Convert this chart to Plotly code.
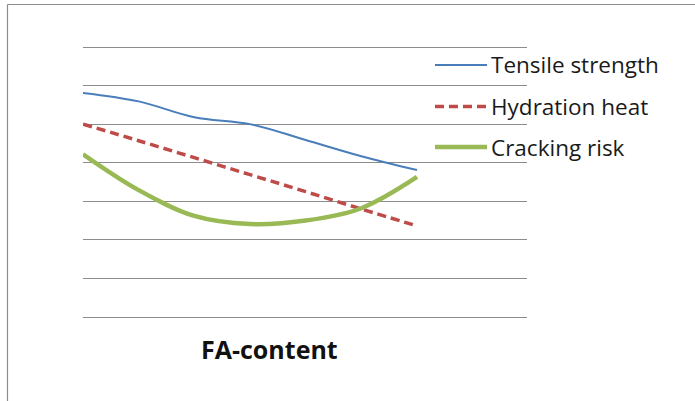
import plotly.graph_objects as go

# FA-content steps (unlabelled categories) and the three qualitative curves
fa_steps = [0, 1, 2, 3, 4, 5, 6]
tensile_strength = [5.81, 5.59, 5.18, 5.00, 4.59, 4.17, 3.81]
hydration_heat = [5.00, 4.57, 4.13, 3.69, 3.25, 2.80, 2.36]
cracking_risk = [4.22, 3.29, 2.62, 2.41, 2.50, 2.82, 3.63]

series_names = ["Tensile strength", "Hydration heat", "Cracking risk"]
series_colors = ["#4a7ebb", "#be4b48", "#98b954"]
series_widths = [2, 3.5, 4.5]
series_dash = ["solid", "9px,5px", "solid"]

W, H = 695, 401
Y_MIN, Y_MAX = 0, 7
PL, PR = 83, 527          # horizontal extent of the gridlines (px)
Y_TOP, Y_BOT = 47, 317    # pixel rows of the top and bottom gridlines
PAD = 4                   # extra px so the edge gridlines are drawn
unit = (Y_BOT - Y_TOP) / (Y_MAX - Y_MIN)
PT, PB = Y_TOP - PAD, Y_BOT + PAD


def px_x(px):
    return (px - PL) / (PR - PL)


def px_y(py):
    return (PB - py) / (PB - PT)


fig = go.Figure()
for name, ys, col, w, d in zip(series_names,
                               [tensile_strength, hydration_heat, cracking_risk],
                               series_colors, series_widths, series_dash):
    fig.add_trace(go.Scatter(
        x=fa_steps, y=ys, mode="lines", name=name,
        line=dict(color=col, width=w, dash=d, shape="spline", smoothing=1.0),
        showlegend=False, hoverinfo="skip",
    ))

shapes = []
annotations = []

# legend drawn by hand: sample line + label
legend_rows = [65, 106.5, 147]
for name, col, w, d, ry in zip(series_names, series_colors, series_widths,
                               series_dash, legend_rows):
    shapes.append(dict(type="line", xref="paper", yref="paper",
                       x0=px_x(435), x1=px_x(487), y0=px_y(ry), y1=px_y(ry),
                       line=dict(color=col, width=w, dash=d)))
    annotations.append(dict(text=name, xref="paper", yref="paper",
                            x=px_x(489), y=px_y(ry), xanchor="left",
                            yanchor="middle", showarrow=False,
                            font=dict(family="Open Sans", size=22.5,
                                      color="#1a1a1a")))

# axis title below the plot
annotations.append(dict(text="<b>FA-content</b>", xref="paper", yref="paper",
                        x=px_x(269), y=px_y(349), xanchor="center",
                        yanchor="middle", showarrow=False,
                        font=dict(family="Open Sans", size=25, color="#111111")))

# chart-area frame (left and top edges visible)
frame = dict(color="#8c8c8c", width=1.2)
shapes.append(dict(type="line", xref="paper", yref="paper",
                   x0=px_x(7.5), x1=px_x(7.5), y0=px_y(4.5), y1=px_y(420),
                   line=frame))
shapes.append(dict(type="line", xref="paper", yref="paper",
                   x0=px_x(7.5), x1=px_x(720), y0=px_y(4.5), y1=px_y(4.5),
                   line=frame))

x_unit = (417 - PL) / 6.0
fig.update_layout(
    width=W, height=H,
    margin=dict(l=PL, r=W - PR, t=PT, b=H - PB, pad=0),
    paper_bgcolor="white", plot_bgcolor="white",
    xaxis=dict(range=[0, (PR - PL) / x_unit], showgrid=False,
               showticklabels=False, zeroline=False, showline=False,
               ticks=""),
    yaxis=dict(range=[Y_MIN - PAD / unit, Y_MAX + PAD / unit], dtick=1,
               tick0=0, showgrid=True, gridcolor="#8c8c8c", gridwidth=1,
               showticklabels=False, zeroline=False, showline=False,
               ticks=""),
    shapes=shapes, annotations=annotations,
)

fig.write_html("out.html")
